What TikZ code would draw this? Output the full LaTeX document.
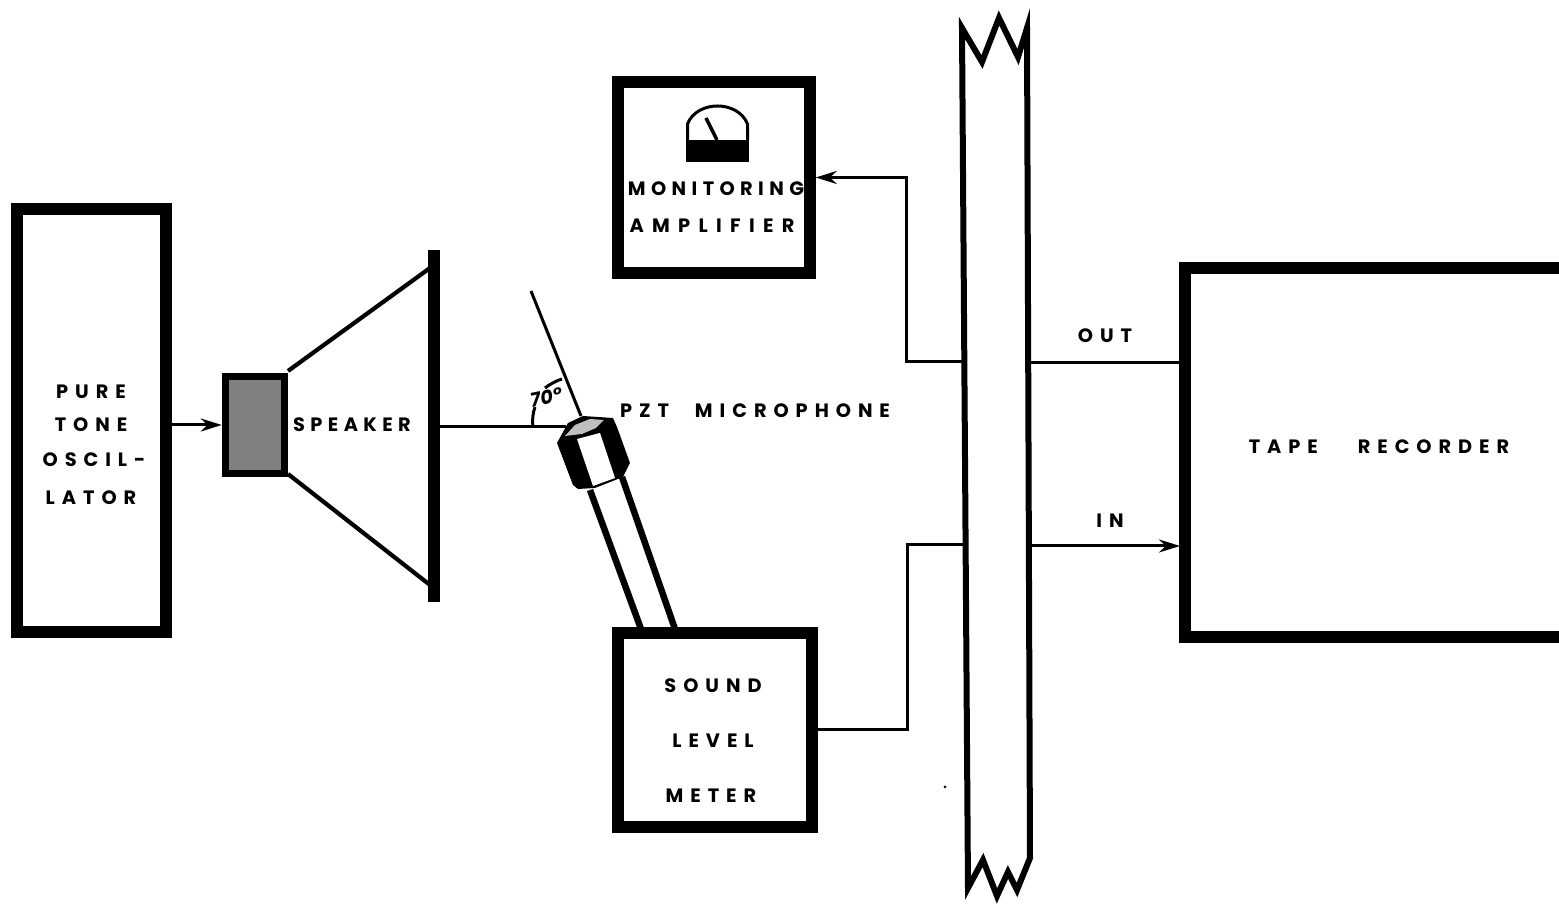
\documentclass[tikz,border=0pt]{standalone}
\usepackage{fontspec}
\usetikzlibrary{arrows.meta}
\setmainfont{Poppins}
\begin{document}
\begin{tikzpicture}[x=0.1mm,y=-0.1mm,line join=miter,>={Stealth[length=2.1mm,width=1.3mm]}]
	\tikzset{blockbox/.style={draw,line width=1.15mm,inner sep=0pt},
		lbl/.style={inner sep=0pt,font=\fontsize{5.5}{5.5}\selectfont\bfseries\addfontfeature{LetterSpace=#1}},
		lbl/.default=36,
		wire/.style={line width=0.3mm}}
	\useasboundingbox (0,0) rectangle (1559,904);
	\clip (0,0) rectangle (1559,904);
	\node[blockbox,minimum width=14.9mm,minimum height=42.3mm] (osc) at (91.5,420.5) {};
	\node[blockbox,minimum width=19.2mm,minimum height=19.1mm] (mon) at (714,177.5) {};
	\node[blockbox,minimum width=19.4mm,minimum height=19.4mm] (snd) at (715,730) {};
	\node[blockbox,minimum width=60mm,minimum height=36.9mm] (tape) at (1485,452.5) {};
	\node[draw,line width=0.75mm,fill=black!50,inner sep=0pt,minimum width=5.9mm,minimum height=9.7mm] (mag) at (255,425) {};
	\draw[line width=1.2mm] (434,250)--(434,602);
	\draw[line width=0.42mm] (288,371)--(430,268);
	\draw[line width=0.42mm] (288,474)--(430,585);
	\draw[line width=0.3mm,fill=white] (687.5,140)--(687.5,124) .. controls (697,100) and (738,100) .. (747.5,124)--(747.5,140);
	\fill (686,140) rectangle (749,162);
	\draw[line width=0.35mm] (706,118)--(717,140);
	\draw[line width=0.6mm] (962,28)--(968,888)--(983,860)--(997,896)--(1008,872)--(1017,890)--(1030,858)--(1027,28)--(1018,57)--(999,18)--(982,62)--cycle;
	\coordinate (outl) at (964,362);
	\coordinate (outr) at (1029,363);
	\coordinate (inl) at (965,545);
	\coordinate (inr) at (1029,546);
	\coordinate (kneeout) at (906,362);
	\coordinate (kneein) at (907,545);
	\coordinate (tapeout) at (1180,363);
	\coordinate (tapein) at (1180,546);
	\draw[wire,->] (osc.east |- mag)--(mag.west);
	\draw[wire,->] (outl)--(kneeout)|-(mon.east);
	\draw[wire] (snd.east)-|(kneein)--(inl);
	\draw[wire] (outr)--(tapeout);
	\draw[wire,->] (inr)--(tapein);
	\draw[line width=0.3mm] (440,427)--(566,427);
	\draw[line width=0.3mm] (531,291)--(581,416);
	\draw[line width=0.3mm] (533,427) .. controls (532,419) and (533,413) .. (535,407);
	\draw[line width=0.3mm] (545,388) .. controls (550,384) and (556,381) .. (562,379);
	\fill (557,443)--(568,423)--(583,416)--(613,418)--(617,427)--(630,463)--(623,477)--(595,488)--(578,489)--(573,485)--cycle;
	\fill[white] (577,439)--(600,433)--(615,478)--(593,486)--cycle;
	\fill[black!25] (565,436)--(575,425)--(590,419)--(604,420)--(596,428)--(582,434)--cycle;
	\draw[line width=0.65mm] (590,490)--(641,629);
	\draw[line width=0.65mm] (622,477)--(675,629);
	\fill (945,787) circle (1.5);
	\node[lbl] (pure) at (91,392) {PURE};
	\node[lbl] (tone) at (91,425) {TONE};
	\node[lbl] (oscil) at (94,460) {OSCIL-};
	\node[lbl] (lator) at (91,498) {LATOR};
	\node[lbl=28] (spk) at (352,425) {SPEAKER};
	\node[lbl] (pzt) at (755,411) {PZT\hspace{2.6mm}MICROPHONE};
	\node[lbl=28] (moni) at (716,189) {MONITORING};
	\node[lbl=43] (ampl) at (712,226) {AMPLIFIER};
	\node[lbl] (sound) at (713,686) {SOUND};
	\node[lbl] (level) at (713,741) {LEVEL};
	\node[lbl] (meter) at (711,796) {METER};
	\node[lbl] (rec) at (1379,447) {TAPE\hspace{4mm}RECORDER};
	\node[lbl] (out) at (1105,336) {OUT};
	\node[lbl] (in) at (1110,521) {IN};
	\node[inner sep=0pt,rotate=12,font=\fontsize{5.5}{5.5}\selectfont\itshape\bfseries] (ang) at (546,397) {70\textdegree};
\end{tikzpicture}
\end{document}
